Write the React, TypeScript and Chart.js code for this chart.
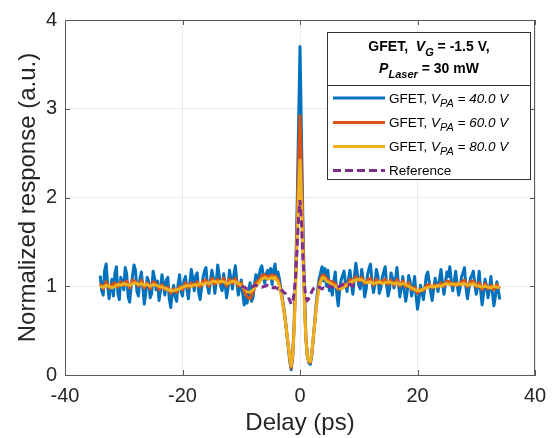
import React, { useEffect, useRef } from 'react';
import { Chart, registerables } from 'chart.js';

Chart.register(...registerables);

// ---------- data ----------
// delay grid shared by the 60 V / 80 V traces
const delay = [
  -34, -33.5, -33, -32.5, -32, -31.5, -31, -30.5, -30, -29.5,
  -29, -28.5, -28, -27.5, -27, -26.5, -26, -25.5, -25, -24.5,
  -24, -23.5, -23, -22.5, -22, -21.5, -21, -20.5, -20, -19.5,
  -19, -18.5, -18, -17.5, -17, -16.5, -16, -15.5, -15, -14.5,
  -14, -13.5, -13, -12.5, -12, -11.5, -11, -10.5, -10, -9.5,
  -9, -8.5, -8, -7.5, -7, -6.5, -6, -5.5,
  -5, -4.75, -4.5, -4.25, -4, -3.75, -3.5, -3.25, -3, -2.75,
  -2.5, -2.25, -2, -1.75, -1.5, -1.25, -1, -0.75, -0.5, -0.25,
  0, 0.25, 0.5, 0.75, 1, 1.25, 1.5, 1.75, 2, 2.25,
  2.5, 2.75, 3, 3.25, 3.5, 3.75, 4, 4.25, 4.5, 4.75, 5,
  5.5, 6, 6.5, 7, 7.5, 8, 8.5, 9, 9.5, 10,
  10.5, 11, 11.5, 12, 12.5, 13, 13.5, 14, 14.5, 15,
  15.5, 16, 16.5, 17, 17.5, 18, 18.5, 19, 19.5, 20,
  20.5, 21, 21.5, 22, 22.5, 23, 23.5, 24, 24.5, 25,
  25.5, 26, 26.5, 27, 27.5, 28, 28.5, 29, 29.5, 30,
  30.5, 31, 31.5, 32, 32.5, 33, 33.5, 34,
];

// finer delay grid for the noisy 40 V trace
const delay40 = [
  -34, -33.75, -33.5, -33.25, -33, -32.75, -32.5, -32.25,
  -32, -31.75, -31.5, -31.25, -31, -30.75, -30.5, -30.25,
  -30, -29.75, -29.5, -29.25, -29, -28.75, -28.5, -28.25,
  -28, -27.75, -27.5, -27.25, -27, -26.75, -26.5, -26.25,
  -26, -25.75, -25.5, -25.25, -25, -24.75, -24.5, -24.25,
  -24, -23.75, -23.5, -23.25, -23, -22.75, -22.5, -22.25,
  -22, -21.75, -21.5, -21.25, -21, -20.75, -20.5, -20.25,
  -20, -19.75, -19.5, -19.25, -19, -18.75, -18.5, -18.25,
  -18, -17.75, -17.5, -17.25, -17, -16.75, -16.5, -16.25,
  -16, -15.75, -15.5, -15.25, -15, -14.75, -14.5, -14.25,
  -14, -13.75, -13.5, -13.25, -13, -12.75, -12.5, -12.25,
  -12, -11.75, -11.5, -11.25, -11, -10.75, -10.5, -10.25,
  -10, -9.75, -9.5, -9.25, -9, -8.75, -8.5, -8.25,
  -8, -7.75, -7.5, -7.25, -7, -6.75, -6.5, -6.25,
  -6, -5.75, -5.5, -5.25,
  -5, -4.75, -4.5, -4.25, -4, -3.75, -3.5, -3.25, -3, -2.75,
  -2.5, -2.25, -2, -1.75, -1.5, -1.25, -1, -0.75, -0.5, -0.25,
  0, 0.25, 0.5, 0.75, 1, 1.25, 1.5, 1.75, 2, 2.25,
  2.5, 2.75, 3, 3.25, 3.5, 3.75, 4, 4.25, 4.5, 4.75, 5,
  5.25, 5.5, 5.75, 6, 6.25, 6.5, 6.75, 7,
  7.25, 7.5, 7.75, 8, 8.25, 8.5, 8.75, 9,
  9.25, 9.5, 9.75, 10, 10.25, 10.5, 10.75, 11,
  11.25, 11.5, 11.75, 12, 12.25, 12.5, 12.75, 13,
  13.25, 13.5, 13.75, 14, 14.25, 14.5, 14.75, 15,
  15.25, 15.5, 15.75, 16, 16.25, 16.5, 16.75, 17,
  17.25, 17.5, 17.75, 18, 18.25, 18.5, 18.75, 19,
  19.25, 19.5, 19.75, 20, 20.25, 20.5, 20.75, 21,
  21.25, 21.5, 21.75, 22, 22.25, 22.5, 22.75, 23,
  23.25, 23.5, 23.75, 24, 24.25, 24.5, 24.75, 25,
  25.25, 25.5, 25.75, 26, 26.25, 26.5, 26.75, 27,
  27.25, 27.5, 27.75, 28, 28.25, 28.5, 28.75, 29,
  29.25, 29.5, 29.75, 30, 30.25, 30.5, 30.75, 31,
  31.25, 31.5, 31.75, 32, 32.25, 32.5, 32.75, 33,
  33.25, 33.5, 33.75, 34,
];

const vpa40 = [
  1.12, 0.95, 0.90, 1.18, 1.25, 1.02, 0.86, 0.97,
  1.08, 0.89, 1.15, 1.22, 0.92, 0.85, 1.10, 1.04,
  0.96, 1.21, 1.14, 0.88, 0.82, 1.00, 1.12, 1.24,
  1.18, 0.94, 0.89, 1.08, 1.16, 0.99, 0.80, 0.93,
  1.10, 1.05, 0.87, 0.92, 1.17, 1.09, 0.96, 1.06,
  0.84, 0.95, 1.13, 1.02, 0.90, 1.07, 1.10, 0.86,
  0.76, 0.93, 1.01, 0.88, 0.83, 1.02, 1.13, 0.94,
  0.89, 1.06, 1.11, 0.97, 0.86, 1.04, 1.19, 1.08,
  0.95, 1.12, 1.15, 0.93, 0.85, 0.98, 1.10, 1.17,
  1.21, 1.00, 0.92, 1.06, 1.18, 1.09, 0.92, 1.05,
  1.24, 1.12, 1.00, 0.95, 1.14, 1.03, 0.87, 0.98,
  1.18, 1.08, 0.97, 1.13, 1.23, 1.05, 0.90, 0.98,
  1.07, 0.92, 0.79, 0.88, 0.81, 0.94, 1.04, 0.83,
  0.87, 1.02, 1.13, 1.06, 1.10, 1.19, 1.23, 1.12,
  1.03, 1.14, 1.18, 1.09,
  1.20, 1.02, 1.18, 1.25, 1.08, 1.16, 1.08, 0.97, 0.86, 0.76,
  0.63, 0.47, 0.32, 0.16, 0.06, 0.20, 0.55, 1.10, 1.85, 2.80,
  3.70, 2.70, 1.70, 0.92, 0.42, 0.21, 0.14, 0.12, 0.22, 0.40,
  0.60, 0.79, 0.95, 1.08, 1.15, 1.22, 1.06, 1.20, 1.00, 1.18, 0.95,
  1.00, 0.90, 1.06, 1.16, 0.92, 0.78, 0.95, 1.07,
  1.12, 1.17, 1.03, 0.94, 1.08, 1.18, 1.04, 0.91,
  1.10, 1.26, 1.15, 1.02, 0.97, 1.19, 1.08, 0.88,
  0.96, 1.13, 1.20, 1.25, 1.06, 0.93, 1.02, 1.19,
  1.12, 0.92, 0.98, 1.10, 1.16, 1.22, 1.01, 0.89,
  0.97, 1.15, 1.09, 0.98, 1.07, 1.21, 1.03, 0.88,
  0.99, 1.11, 0.95, 0.83, 0.94, 1.12, 1.05, 0.89,
  0.97, 1.11, 0.90, 0.74, 0.85, 1.01, 0.95, 0.85,
  0.98, 1.12, 1.16, 1.04, 0.93, 0.84, 0.97, 1.09,
  1.02, 0.94, 1.08, 1.19, 1.04, 0.91, 1.03, 1.16,
  1.11, 1.22, 1.06, 0.95, 1.05, 1.17, 1.02, 0.90,
  0.98, 1.11, 1.15, 1.21, 0.99, 0.86, 0.97, 1.09,
  1.12, 1.17, 1.03, 0.91, 1.00, 1.17, 0.95, 0.79,
  0.92, 1.08, 1.00, 0.87, 0.97, 1.11, 0.93, 0.78,
  0.88, 1.05, 0.96, 0.85,
];

const vpa60 = [
  1.03, 0.97, 1.05, 0.98, 1.02, 1.04, 0.99, 1.05, 1.01, 1.06,
  0.98, 1.07, 1.05, 1.00, 1.07, 0.98, 1.04, 0.97, 1.05, 1.03,
  0.96, 1.02, 0.96, 0.99, 0.92, 0.97, 0.93, 1.00, 0.96, 1.04,
  0.98, 1.04, 1.00, 1.05, 0.99, 1.06, 1.07, 1.00, 1.09, 1.02,
  1.08, 1.03, 1.09, 1.00, 1.08, 1.03, 1.09, 1.00, 1.04, 0.94,
  0.88, 0.86, 0.93, 1.04, 1.07, 1.12, 1.13, 1.11,
  1.12, 1.13, 1.11, 1.12, 1.10, 1.08, 1.02, 0.94, 0.84, 0.73,
  0.61, 0.47, 0.33, 0.18, 0.08, 0.22, 0.55, 1.05, 1.70, 2.40,
  2.92, 2.35, 1.55, 0.88, 0.42, 0.22, 0.15, 0.14, 0.24, 0.41,
  0.58, 0.75, 0.90, 1.02, 1.08, 1.12, 1.13, 1.11, 1.09, 1.07, 1.06,
  1.05, 1.03, 0.96, 1.00, 1.03, 1.00, 1.08, 1.04, 1.11, 1.06,
  1.10, 1.03, 1.07, 1.09, 1.01, 1.08, 1.03, 1.06, 1.08, 1.02,
  1.07, 1.01, 1.08, 1.00, 1.06, 0.99, 1.04, 0.96, 0.99, 0.92,
  0.97, 0.95, 1.01, 1.02, 0.98, 1.02, 0.99, 1.04, 1.00, 1.06,
  1.05, 1.01, 1.04, 1.01, 1.05, 1.07, 0.99, 1.05, 1.06, 0.99,
  1.04, 0.96, 1.03, 0.97, 1.01, 0.96, 1.02, 0.97,
];

const vpa80 = [
  1.00, 0.99, 1.01, 1.00, 0.98, 1.00, 1.02, 1.01, 1.03, 1.02,
  1.01, 1.03, 1.04, 1.02, 1.03, 1.01, 1.02, 1.00, 1.02, 1.01,
  1.00, 0.99, 0.98, 0.96, 0.95, 0.95, 0.96, 0.97, 0.99, 1.00,
  1.01, 1.00, 1.02, 1.01, 1.03, 1.02, 1.04, 1.03, 1.05, 1.06,
  1.04, 1.06, 1.05, 1.03, 1.04, 1.06, 1.05, 1.03, 1.01, 0.98,
  0.94, 0.93, 0.96, 1.00, 1.04, 1.08, 1.10, 1.08,
  1.09, 1.10, 1.08, 1.10, 1.07, 1.05, 1.00, 0.92, 0.83, 0.74,
  0.62, 0.48, 0.35, 0.20, 0.10, 0.22, 0.50, 0.95, 1.50, 2.05,
  2.42, 2.00, 1.35, 0.80, 0.40, 0.22, 0.16, 0.15, 0.25, 0.42,
  0.58, 0.74, 0.88, 0.99, 1.05, 1.09, 1.10, 1.08, 1.06, 1.05, 1.04,
  1.02, 1.00, 0.98, 0.97, 0.99, 1.02, 1.04, 1.06, 1.07, 1.08,
  1.07, 1.05, 1.04, 1.05, 1.03, 1.04, 1.05, 1.03, 1.04, 1.05,
  1.04, 1.03, 1.04, 1.02, 1.03, 1.02, 1.00, 0.98, 0.96, 0.95,
  0.95, 0.97, 0.98, 0.99, 1.00, 0.99, 1.01, 1.00, 1.02, 1.03,
  1.02, 1.03, 1.01, 1.03, 1.02, 1.03, 1.01, 1.02, 1.03, 1.01,
  1.00, 0.99, 1.00, 0.99, 0.98, 1.00, 0.99, 0.99,
];

const refDelay = [
  -10, -9.5, -9, -8.5, -8, -7.5, -7, -6.5, -6, -5.5,
  -5, -4.75, -4.5, -4.25, -4, -3.75, -3.5, -3.25, -3, -2.75,
  -2.5, -2.25, -2, -1.75, -1.5, -1.25, -1, -0.75, -0.5, -0.25,
  0, 0.25, 0.5, 0.75, 1, 1.25, 1.5, 1.75, 2, 2.25,
  2.5, 2.75, 3, 3.25, 3.5, 3.75, 4, 4.25, 4.5, 4.75, 5,
  5.5, 6, 6.5, 7, 7.5, 8, 8.5, 9, 9.5, 10,
];

const reference = [
  1.00, 0.99, 0.97, 0.98, 1.00, 1.01, 1.00, 0.99, 1.00, 1.01,
  1.00, 0.99, 0.98, 0.99, 0.98, 0.97, 0.98, 0.96, 0.95, 0.93,
  0.92, 0.90, 0.88, 0.84, 0.80, 0.82, 0.92, 1.12, 1.42, 1.78,
  1.97, 1.72, 1.32, 1.02, 0.88, 0.84, 0.86, 0.90, 0.94, 0.97,
  0.98, 0.99, 1.00, 0.99, 0.98, 0.97, 0.98, 0.97, 0.98, 0.99, 1.00,
  0.99, 0.98, 0.99, 1.01, 1.02, 1.03, 1.02, 1.00, 0.99, 1.00,
];

const vpaLabels = ['40.0', '60.0', '80.0'];
const xTicks = [-40, -20, 0, 20, 40];
const yTicks = [0, 1, 2, 3, 4];

// ---------- styles ----------
const FONT = '"Liberation Sans", Arial, Helvetica, sans-serif';
const AXIS = '#5a5a5a';
const TEXT = '#262626';
const COLORS = ['#0072BD', '#D95319', '#EDB120', '#7E2F8E'];

type Seg = { t: string; italic?: boolean; sub?: boolean };

function drawRich(ctx: CanvasRenderingContext2D, segs: Seg[], x: number, y: number, size: number, subSize: number, bold: boolean, align: 'left' | 'center') {
  const fontOf = (s: Seg) => `${s.italic ? 'italic ' : ''}${bold ? 'bold ' : ''}${s.sub ? subSize : size}px ${FONT}`;
  const widths = segs.map((s) => { ctx.font = fontOf(s); return ctx.measureText(s.t).width; });
  const total = widths.reduce((a, b) => a + b, 0);
  let cx = align === 'center' ? x - total / 2 : x;
  ctx.textBaseline = 'alphabetic';
  ctx.textAlign = 'left';
  segs.forEach((s, i) => {
    ctx.font = fontOf(s);
    ctx.fillText(s.t, cx, s.sub ? y + size * 0.33 : y);
    cx += widths[i];
  });
}

const framePlugin = {
  id: 'matlabFrame',
  afterDraw(chart: any) {
    const { ctx, chartArea: a, scales } = chart;
    const xs = scales.x, ys = scales.y;
    ctx.save();
    ctx.strokeStyle = AXIS;
    ctx.lineWidth = 1;
    ctx.beginPath();
    ctx.moveTo(a.left, Math.round(a.top) + 0.5);
    ctx.lineTo(a.right, Math.round(a.top) + 0.5);
    ctx.moveTo(Math.round(a.right) - 0.5, a.top);
    ctx.lineTo(Math.round(a.right) - 0.5, a.bottom);
    const tl = 5;
    xTicks.forEach((v) => {
      const px = Math.round(xs.getPixelForValue(v)) + 0.5;
      ctx.moveTo(px, a.bottom); ctx.lineTo(px, a.bottom - tl);
      ctx.moveTo(px, a.top); ctx.lineTo(px, a.top + tl);
    });
    yTicks.forEach((v) => {
      const py = Math.round(ys.getPixelForValue(v)) + 0.5;
      ctx.moveTo(a.left, py); ctx.lineTo(a.left + tl, py);
      ctx.moveTo(a.right, py); ctx.lineTo(a.right - tl, py);
    });
    ctx.stroke();

    // legend box
    const L = 327, R = 531, T = 32, B = 180, SEP = 85;
    ctx.fillStyle = '#ffffff';
    ctx.fillRect(L, T, R - L, B - T);
    ctx.strokeStyle = '#333333';
    ctx.strokeRect(L + 0.5, T + 0.5, R - L - 1, B - T - 1);
    ctx.beginPath();
    ctx.moveTo(L, SEP + 0.5); ctx.lineTo(R, SEP + 0.5);
    ctx.stroke();

    ctx.fillStyle = '#000000';
    const cxm = (L + R) / 2;
    drawRich(ctx, [{ t: 'GFET,  ' }, { t: 'V', italic: true }, { t: 'G', italic: true, sub: true }, { t: ' = -1.5 V,' }], cxm, 51, 14, 11, true, 'center');
    drawRich(ctx, [{ t: 'P', italic: true }, { t: 'Laser', italic: true, sub: true }, { t: ' = 30 mW' }], cxm, 73, 14, 11, true, 'center');

    const rowY = [98, 122.5, 146.5, 170.5];
    const names: Seg[][] = [
      ...vpaLabels.map((v) => [{ t: 'GFET, ' }, { t: 'V', italic: true }, { t: 'PA', italic: true, sub: true }, { t: ` = ${v} V`, italic: true }] as Seg[]),
      [{ t: 'Reference' }],
    ];
    rowY.forEach((ry, i) => {
      ctx.save();
      ctx.strokeStyle = COLORS[i];
      ctx.lineWidth = 3;
      if (i === 3) ctx.setLineDash([8, 4]);
      ctx.beginPath();
      ctx.moveTo(333, ry); ctx.lineTo(385, ry);
      ctx.stroke();
      ctx.restore();
      ctx.fillStyle = '#000000';
      drawRich(ctx, names[i], 389, ry + 4.5, 13.5, 11, false, 'left');
    });
    ctx.restore();
  },
};

export default function App() {
  const ref = useRef<HTMLCanvasElement | null>(null);
  useEffect(() => {
    document.body.style.margin = '0';
    if (!ref.current) return;
    const mk = (xsArr: number[], ysArr: number[]) => xsArr.map((x, i) => ({ x, y: ysArr[i] }));
    const chart = new Chart(ref.current, {
      type: 'line',
      data: {
        datasets: [
          { label: 'GFET, VPA = 40.0 V', data: mk(delay40, vpa40), borderColor: COLORS[0], borderWidth: 3, pointRadius: 0, order: 4, borderJoinStyle: 'round' },
          { label: 'GFET, VPA = 60.0 V', data: mk(delay, vpa60), borderColor: COLORS[1], borderWidth: 3, pointRadius: 0, order: 3, borderJoinStyle: 'round' },
          { label: 'GFET, VPA = 80.0 V', data: mk(delay, vpa80), borderColor: COLORS[2], borderWidth: 3, pointRadius: 0, order: 2, borderJoinStyle: 'round' },
          { label: 'Reference', data: mk(refDelay, reference), borderColor: COLORS[3], borderWidth: 3, borderDash: [7, 4], pointRadius: 0, order: 1 },
        ],
      },
      options: {
        animation: false,
        responsive: false,
        devicePixelRatio: 1,
        layout: { padding: { top: 19, right: 23, left: 0, bottom: 0 } },
        plugins: { legend: { display: false }, tooltip: { enabled: false } },
        elements: { line: { tension: 0 } },
        scales: {
          x: {
            type: 'linear',
            min: -40,
            max: 40,
            afterBuildTicks: (s: any) => { s.ticks = xTicks.map((v) => ({ value: v })); },
            afterFit: (s: any) => { s.height = 63; },
            ticks: { color: TEXT, font: { family: FONT, size: 20 }, padding: 9, maxRotation: 0 },
            grid: { color: '#ebebeb', drawTicks: false, lineWidth: 1 },
            border: { display: true, color: AXIS, width: 1 },
            title: { display: true, text: 'Delay (ps)', color: TEXT, font: { family: FONT, size: 24 }, padding: { top: 0, bottom: 0 } },
          },
          y: {
            type: 'linear',
            min: 0,
            max: 4,
            afterBuildTicks: (s: any) => { s.ticks = yTicks.map((v) => ({ value: v })); },
            afterFit: (s: any) => { s.width = 65; },
            ticks: { color: TEXT, font: { family: FONT, size: 20 }, padding: 8 },
            grid: { color: '#ebebeb', drawTicks: false, lineWidth: 1 },
            border: { display: true, color: AXIS, width: 1 },
            title: { display: true, text: 'Normalized response (a.u.)', color: TEXT, font: { family: FONT, size: 24 }, padding: { top: 14, bottom: 0 } },
          },
        },
      },
      plugins: [framePlugin],
    } as any);
    return () => chart.destroy();
  }, []);
  return (
    <div style={{ width: 558, height: 438 }}>
      <canvas ref={ref} width={558} height={438} style={{ display: 'block' }} />
    </div>
  );
}
